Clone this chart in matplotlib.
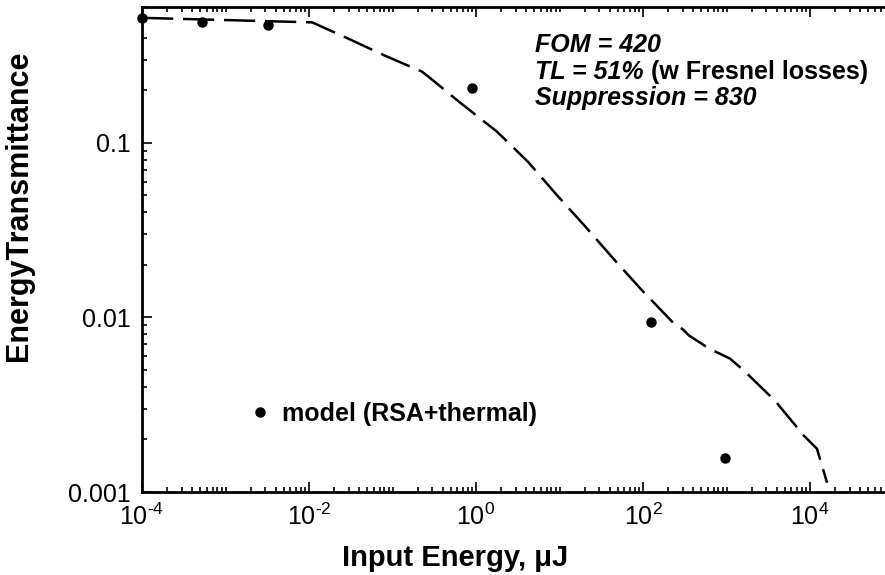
import numpy as np
import matplotlib
matplotlib.use("Agg")
import matplotlib.pyplot as plt
from matplotlib.ticker import LogLocator, FixedLocator, FuncFormatter, NullFormatter

plt.rcParams["font.family"] = ["Liberation Sans", "DejaVu Sans"]
plt.rcParams["mathtext.fontset"] = "custom"
plt.rcParams["mathtext.rm"] = "Liberation Sans"
plt.rcParams["mathtext.it"] = "Liberation Sans:italic"
plt.rcParams["mathtext.bf"] = "Liberation Sans:bold"
plt.rcParams["mathtext.default"] = "regular"

# model points (dots)
model_E = [1e-4, 5.2e-4, 3.2e-3, 0.9, 125, 950]
model_T = [0.52, 0.49, 0.476, 0.207, 0.0094, 0.00157]

# dashed curve
curve_E = [1e-4, 1.09e-2, 2.93e-2, 8.1e-2, 0.225, 0.289, 0.625, 1.78, 4.2,
           9.3, 20.2, 43.8, 94.6, 228, 301, 355, 617, 1100, 1670, 3810,
           8470, 12100, 16000]
curve_T = [0.52, 0.49, 0.396, 0.316, 0.256, 0.233, 0.172, 0.116, 0.0778,
           0.0502, 0.0333, 0.0218, 0.0145, 0.00935, 0.00853, 0.00788,
           0.00664, 0.00581, 0.00489, 0.00333, 0.00210, 0.00177, 0.00113]


def xfmt(v, p):
    e = round(np.log10(v))
    sign = "\u2010" if e < 0 else ""
    return r"$10^{%s%d}$" % (sign, abs(e))


fig = plt.figure(figsize=(8.85, 5.75), dpi=100)
ax = fig.add_axes([142/885, 1-492/575, 742/885, 485/575])

ax.plot(curve_E, curve_T, color="black", lw=1.8, dashes=(12.5, 3.9))
ax.plot(model_E, model_T, "o", color="black", ms=6.5, clip_on=False, zorder=5,
        label="model (RSA+thermal)")

ax.set_xscale("log")
ax.set_yscale("log")
ax.set_xlim(1e-4, 10**4.886)
ax.set_ylim(1e-3, 0.6)

ax.xaxis.set_major_locator(FixedLocator([1e-4, 1e-2, 1e0, 1e2, 1e4]))
ax.xaxis.set_major_formatter(FuncFormatter(xfmt))
ax.xaxis.set_minor_locator(LogLocator(base=10, subs=np.arange(1, 10), numticks=50))
ax.xaxis.set_minor_formatter(NullFormatter())
ax.yaxis.set_major_locator(FixedLocator([1e-3, 1e-2, 1e-1]))
ax.yaxis.set_major_formatter(FuncFormatter(lambda v, p: {-3: "0.001", -2: "0.01", -1: "0.1"}[round(np.log10(v))]))
ax.yaxis.set_minor_locator(LogLocator(base=10, subs=np.arange(2, 10), numticks=50))
ax.yaxis.set_minor_formatter(NullFormatter())

ax.tick_params(which="both", direction="in", top=True, right=False, width=1.2)
ax.tick_params(which="major", length=7, labelsize=18, pad=8)
ax.tick_params(which="minor", length=3.5)
for s in ["left", "bottom", "top"]:
    ax.spines[s].set_linewidth(2)
ax.spines["right"].set_visible(False)

ax.set_xlabel("Input Energy, μJ", fontsize=21, fontweight="bold", va="center")
ax.xaxis.set_label_coords(0.422, -0.136)
ax.set_ylabel("EnergyTransmittance", fontsize=22, fontweight="bold")
ax.yaxis.set_label_coords(-0.145, 0.59)

# annotation block
tx = 535/885
fig.text(tx, 1-45/575, "FOM = 420", fontsize=18, fontweight="bold", style="italic", va="center")
t1 = fig.text(tx, 1-72/575, "TL = 51%", fontsize=18, fontweight="bold", style="italic", va="center")
ax.annotate(" (w Fresnel losses)", xy=(1, 0), xycoords=t1, va="bottom",
            fontsize=18, fontweight="bold")
fig.text(tx, 1-98/575, "Suppression = 830", fontsize=18, fontweight="bold", style="italic", va="center")

# legend entry
ax.legend(loc="center left", bbox_to_anchor=(247/885, 1-414/575),
          bbox_transform=fig.transFigure, frameon=False, numpoints=1,
          handlelength=1.0, handletextpad=0.4, borderpad=0, borderaxespad=0,
          prop={"weight": "bold", "size": 18})

fig.savefig("out.png", dpi=100)
